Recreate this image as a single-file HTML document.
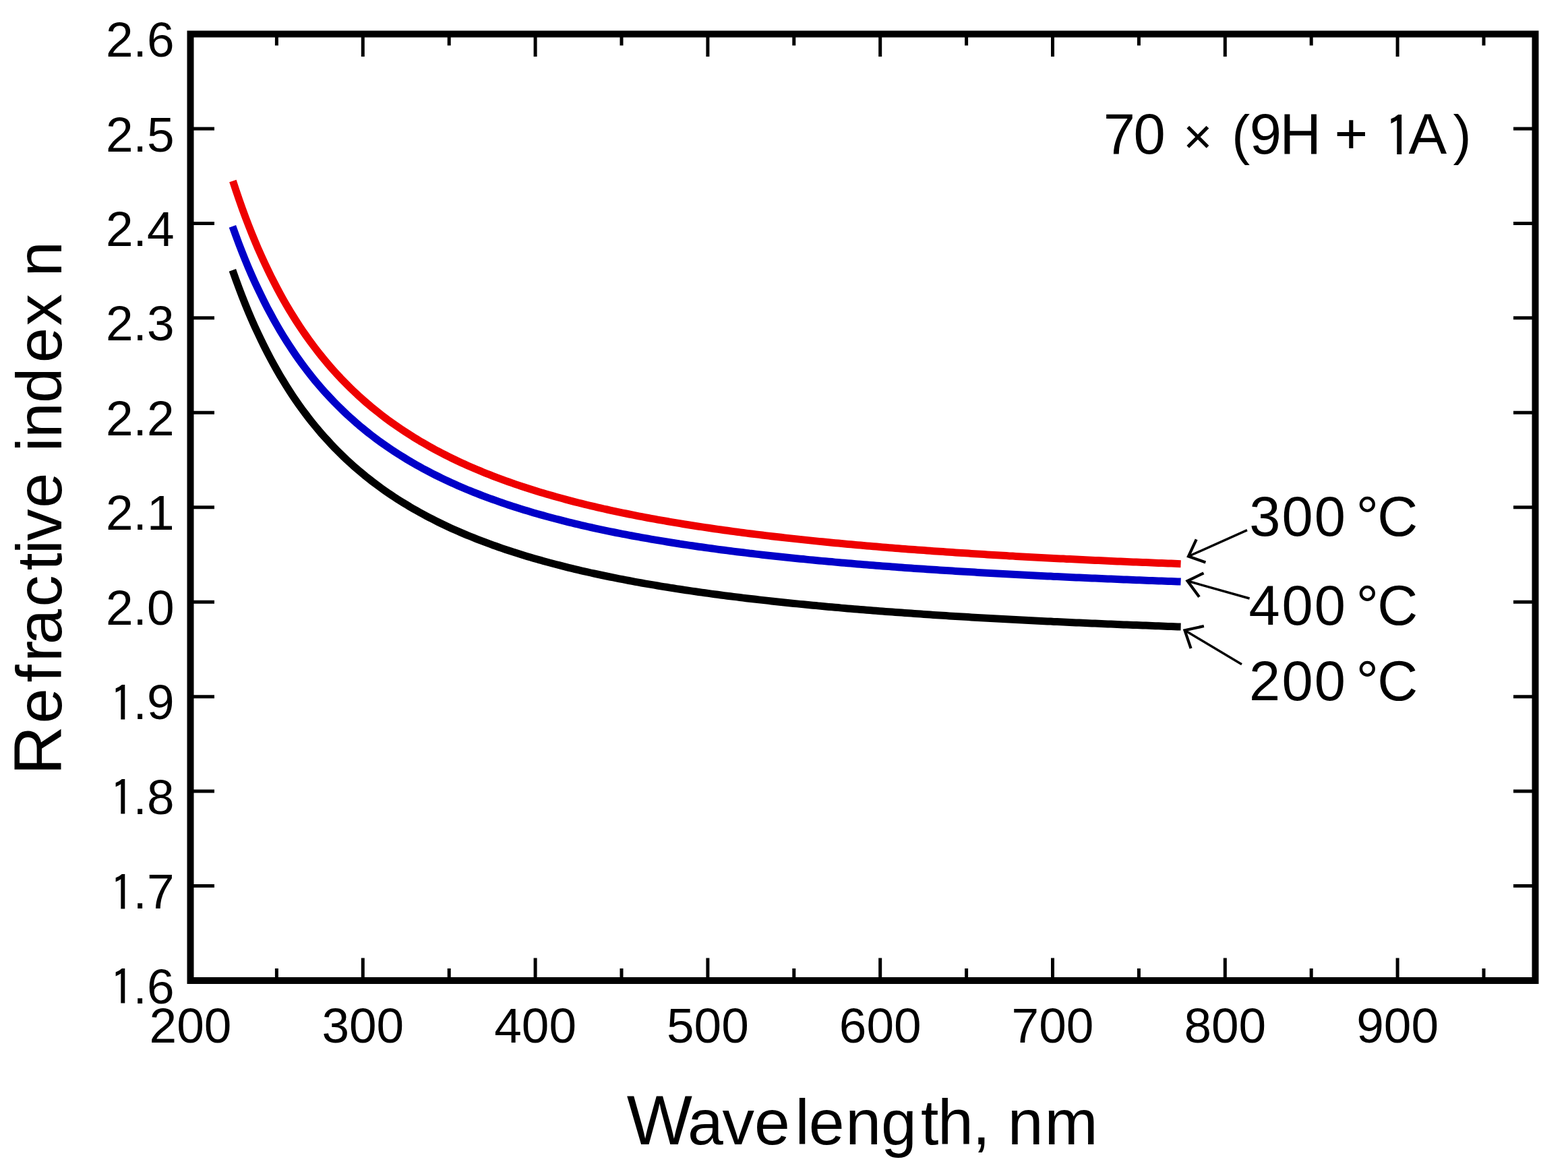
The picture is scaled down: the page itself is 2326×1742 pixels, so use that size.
<!DOCTYPE html>
<html><head><meta charset="utf-8"><title>Refractive index vs wavelength</title>
<style>html,body{margin:0;padding:0;background:#fff;overflow:hidden;}svg{display:block;}</style></head>
<body><svg width="2326" height="1742" viewBox="0 0 2326 1742">
<rect width="2326" height="1742" fill="#fff"/>
<rect x="282.5" y="50.5" width="1995.0" height="1404.5" fill="none" stroke="#000" stroke-width="10"/>
<path d="M538.3 1455.0V1421.5M538.3 50.5V84M794.1 1455.0V1421.5M794.1 50.5V84M1049.9 1455.0V1421.5M1049.9 50.5V84M1305.7 1455.0V1421.5M1305.7 50.5V84M1561.5 1455.0V1421.5M1561.5 50.5V84M1817.3 1455.0V1421.5M1817.3 50.5V84M2073.1 1455.0V1421.5M2073.1 50.5V84M410.4 1455.0V1437M410.4 50.5V67.5M666.2 1455.0V1437M666.2 50.5V67.5M922.0 1455.0V1437M922.0 50.5V67.5M1177.8 1455.0V1437M1177.8 50.5V67.5M1433.6 1455.0V1437M1433.6 50.5V67.5M1689.4 1455.0V1437M1689.4 50.5V67.5M1945.2 1455.0V1437M1945.2 50.5V67.5M2201.0 1455.0V1437M2201.0 50.5V67.5M282.5 1314.5H318M2277.5 1314.5H2245M282.5 1174.1H318M2277.5 1174.1H2245M282.5 1033.7H318M2277.5 1033.7H2245M282.5 893.2H318M2277.5 893.2H2245M282.5 752.8H318M2277.5 752.8H2245M282.5 612.3H318M2277.5 612.3H2245M282.5 471.8H318M2277.5 471.8H2245M282.5 331.4H318M2277.5 331.4H2245M282.5 191.0H318M2277.5 191.0H2245" stroke="#000" stroke-width="5" fill="none"/>
<path d="M345.4 268.5 L350.1 282.8 L354.8 296.6 L359.5 309.9 L364.2 322.6 L368.9 334.9 L373.6 346.8 L378.3 358.2 L383.0 369.3 L387.8 379.9 L392.5 390.2 L397.2 400.2 L401.9 409.8 L406.6 419.1 L411.3 428.1 L416.0 436.8 L420.7 445.3 L425.4 453.4 L430.1 461.4 L434.8 469.0 L439.5 476.5 L444.2 483.7 L448.9 490.7 L453.6 497.5 L458.3 504.2 L463.0 510.6 L467.7 516.8 L472.4 522.9 L477.1 528.8 L481.8 534.5 L486.5 540.1 L491.2 545.6 L495.9 550.9 L500.6 556.0 L505.3 561.1 L510.0 565.9 L514.7 570.7 L519.4 575.4 L524.1 579.9 L528.8 584.3 L533.5 588.7 L538.2 592.9 L542.9 597.0 L547.6 601.0 L552.3 604.9 L557.1 608.8 L561.8 612.5 L566.5 616.2 L571.2 619.8 L575.9 623.3 L580.6 626.7 L585.3 630.0 L590.0 633.3 L594.7 636.5 L599.4 639.6 L604.1 642.7 L608.8 645.7 L613.5 648.7 L618.2 651.5 L622.9 654.4 L627.6 657.1 L632.3 659.8 L637.0 662.5 L641.7 665.1 L646.4 667.7 L651.1 670.2 L655.8 672.6 L660.5 675.0 L665.2 677.4 L669.9 679.7 L674.6 682.0 L679.3 684.2 L684.0 686.4 L688.7 688.6 L693.4 690.7 L698.1 692.7 L702.8 694.8 L707.5 696.8 L712.2 698.7 L716.9 700.7 L721.6 702.6 L726.4 704.4 L731.1 706.3 L735.8 708.1 L740.5 709.8 L745.2 711.6 L749.9 713.3 L754.6 715.0 L759.3 716.6 L764.0 718.3 L768.7 719.9 L773.4 721.4 L778.1 723.0 L782.8 724.5 L787.5 726.0 L792.2 727.5 L796.9 729.0 L801.6 730.4 L806.3 731.8 L811.0 733.2 L815.7 734.6 L820.4 735.9 L825.1 737.2 L829.8 738.5 L834.5 739.8 L839.2 741.1 L843.9 742.3 L848.6 743.6 L853.3 744.8 L858.0 746.0 L862.7 747.2 L867.4 748.3 L872.1 749.5 L876.8 750.6 L881.5 751.7 L886.2 752.8 L890.9 753.9 L895.7 755.0 L900.4 756.0 L905.1 757.1 L909.8 758.1 L914.5 759.1 L919.2 760.1 L923.9 761.1 L928.6 762.0 L933.3 763.0 L938.0 763.9 L942.7 764.9 L947.4 765.8 L952.1 766.7 L956.8 767.6 L961.5 768.5 L966.2 769.3 L970.9 770.2 L975.6 771.1 L980.3 771.9 L985.0 772.7 L989.7 773.5 L994.4 774.3 L999.1 775.1 L1003.8 775.9 L1008.5 776.7 L1013.2 777.5 L1017.9 778.2 L1022.6 779.0 L1027.3 779.7 L1032.0 780.5 L1036.7 781.2 L1041.4 781.9 L1046.1 782.6 L1050.8 783.3 L1055.5 784.0 L1060.3 784.7 L1065.0 785.4 L1069.7 786.0 L1074.4 786.7 L1079.1 787.3 L1083.8 788.0 L1088.5 788.6 L1093.2 789.2 L1097.9 789.9 L1102.6 790.5 L1107.3 791.1 L1112.0 791.7 L1116.7 792.3 L1121.4 792.9 L1126.1 793.4 L1130.8 794.0 L1135.5 794.6 L1140.2 795.1 L1144.9 795.7 L1149.6 796.3 L1154.3 796.8 L1159.0 797.3 L1163.7 797.9 L1168.4 798.4 L1173.1 798.9 L1177.8 799.4 L1182.5 799.9 L1187.2 800.4 L1191.9 800.9 L1196.6 801.4 L1201.3 801.9 L1206.0 802.4 L1210.7 802.9 L1215.4 803.4 L1220.1 803.8 L1224.8 804.3 L1229.6 804.8 L1234.3 805.2 L1239.0 805.7 L1243.7 806.1 L1248.4 806.5 L1253.1 807.0 L1257.8 807.4 L1262.5 807.8 L1267.2 808.3 L1271.9 808.7 L1276.6 809.1 L1281.3 809.5 L1286.0 809.9 L1290.7 810.3 L1295.4 810.7 L1300.1 811.1 L1304.8 811.5 L1309.5 811.9 L1314.2 812.3 L1318.9 812.7 L1323.6 813.1 L1328.3 813.4 L1333.0 813.8 L1337.7 814.2 L1342.4 814.5 L1347.1 814.9 L1351.8 815.2 L1356.5 815.6 L1361.2 815.9 L1365.9 816.3 L1370.6 816.6 L1375.3 817.0 L1380.0 817.3 L1384.7 817.7 L1389.4 818.0 L1394.1 818.3 L1398.9 818.6 L1403.6 819.0 L1408.3 819.3 L1413.0 819.6 L1417.7 819.9 L1422.4 820.2 L1427.1 820.5 L1431.8 820.8 L1436.5 821.1 L1441.2 821.4 L1445.9 821.7 L1450.6 822.0 L1455.3 822.3 L1460.0 822.6 L1464.7 822.9 L1469.4 823.2 L1474.1 823.5 L1478.8 823.8 L1483.5 824.0 L1488.2 824.3 L1492.9 824.6 L1497.6 824.9 L1502.3 825.1 L1507.0 825.4 L1511.7 825.7 L1516.4 825.9 L1521.1 826.2 L1525.8 826.4 L1530.5 826.7 L1535.2 826.9 L1539.9 827.2 L1544.6 827.4 L1549.3 827.7 L1554.0 827.9 L1558.7 828.2 L1563.4 828.4 L1568.2 828.7 L1572.9 828.9 L1577.6 829.1 L1582.3 829.4 L1587.0 829.6 L1591.7 829.8 L1596.4 830.1 L1601.1 830.3 L1605.8 830.5 L1610.5 830.7 L1615.2 830.9 L1619.9 831.2 L1624.6 831.4 L1629.3 831.6 L1634.0 831.8 L1638.7 832.0 L1643.4 832.2 L1648.1 832.4 L1652.8 832.7 L1657.5 832.9 L1662.2 833.1 L1666.9 833.3 L1671.6 833.5 L1676.3 833.7 L1681.0 833.9 L1685.7 834.1 L1690.4 834.3 L1695.1 834.5 L1699.8 834.6 L1704.5 834.8 L1709.2 835.0 L1713.9 835.2 L1718.6 835.4 L1723.3 835.6 L1728.0 835.8 L1732.7 836.0 L1737.5 836.1 L1742.2 836.3 L1746.9 836.5 L1751.6 836.7" stroke="#ee0000" stroke-width="11" fill="none" stroke-linejoin="round"/>
<path d="M344.9 335.8 L349.6 348.9 L354.3 361.6 L359.0 373.8 L363.7 385.5 L368.4 396.8 L373.1 407.7 L377.8 418.2 L382.6 428.4 L387.3 438.2 L392.0 447.7 L396.7 456.9 L401.4 465.7 L406.1 474.3 L410.8 482.6 L415.5 490.7 L420.2 498.5 L424.9 506.0 L429.6 513.3 L434.3 520.4 L439.0 527.3 L443.7 534.0 L448.4 540.5 L453.1 546.8 L457.8 552.9 L462.5 558.9 L467.2 564.7 L471.9 570.3 L476.6 575.8 L481.3 581.1 L486.1 586.3 L490.8 591.3 L495.5 596.2 L500.2 601.0 L504.9 605.7 L509.6 610.2 L514.3 614.7 L519.0 619.0 L523.7 623.2 L528.4 627.3 L533.1 631.4 L537.8 635.3 L542.5 639.1 L547.2 642.9 L551.9 646.5 L556.6 650.1 L561.3 653.6 L566.0 657.0 L570.7 660.3 L575.4 663.6 L580.1 666.8 L584.8 669.9 L589.5 672.9 L594.3 675.9 L599.0 678.8 L603.7 681.7 L608.4 684.5 L613.1 687.2 L617.8 689.9 L622.5 692.6 L627.2 695.2 L631.9 697.7 L636.6 700.2 L641.3 702.6 L646.0 705.0 L650.7 707.3 L655.4 709.6 L660.1 711.9 L664.8 714.1 L669.5 716.2 L674.2 718.3 L678.9 720.4 L683.6 722.5 L688.3 724.5 L693.0 726.5 L697.8 728.4 L702.5 730.3 L707.2 732.2 L711.9 734.0 L716.6 735.8 L721.3 737.6 L726.0 739.3 L730.7 741.0 L735.4 742.7 L740.1 744.4 L744.8 746.0 L749.5 747.6 L754.2 749.2 L758.9 750.7 L763.6 752.3 L768.3 753.8 L773.0 755.2 L777.7 756.7 L782.4 758.1 L787.1 759.5 L791.8 760.9 L796.5 762.3 L801.3 763.6 L806.0 764.9 L810.7 766.2 L815.4 767.5 L820.1 768.8 L824.8 770.0 L829.5 771.2 L834.2 772.4 L838.9 773.6 L843.6 774.8 L848.3 775.9 L853.0 777.1 L857.7 778.2 L862.4 779.3 L867.1 780.4 L871.8 781.5 L876.5 782.5 L881.2 783.6 L885.9 784.6 L890.6 785.6 L895.3 786.6 L900.0 787.6 L904.8 788.6 L909.5 789.5 L914.2 790.5 L918.9 791.4 L923.6 792.3 L928.3 793.2 L933.0 794.1 L937.7 795.0 L942.4 795.9 L947.1 796.7 L951.8 797.6 L956.5 798.4 L961.2 799.2 L965.9 800.1 L970.6 800.9 L975.3 801.7 L980.0 802.4 L984.7 803.2 L989.4 804.0 L994.1 804.7 L998.8 805.5 L1003.5 806.2 L1008.2 807.0 L1013.0 807.7 L1017.7 808.4 L1022.4 809.1 L1027.1 809.8 L1031.8 810.5 L1036.5 811.2 L1041.2 811.8 L1045.9 812.5 L1050.6 813.1 L1055.3 813.8 L1060.0 814.4 L1064.7 815.1 L1069.4 815.7 L1074.1 816.3 L1078.8 816.9 L1083.5 817.5 L1088.2 818.1 L1092.9 818.7 L1097.6 819.3 L1102.3 819.8 L1107.0 820.4 L1111.7 821.0 L1116.5 821.5 L1121.2 822.1 L1125.9 822.6 L1130.6 823.2 L1135.3 823.7 L1140.0 824.2 L1144.7 824.7 L1149.4 825.3 L1154.1 825.8 L1158.8 826.3 L1163.5 826.8 L1168.2 827.3 L1172.9 827.7 L1177.6 828.2 L1182.3 828.7 L1187.0 829.2 L1191.7 829.6 L1196.4 830.1 L1201.1 830.6 L1205.8 831.0 L1210.5 831.5 L1215.2 831.9 L1220.0 832.4 L1224.7 832.8 L1229.4 833.2 L1234.1 833.6 L1238.8 834.1 L1243.5 834.5 L1248.2 834.9 L1252.9 835.3 L1257.6 835.7 L1262.3 836.1 L1267.0 836.5 L1271.7 836.9 L1276.4 837.3 L1281.1 837.7 L1285.8 838.1 L1290.5 838.4 L1295.2 838.8 L1299.9 839.2 L1304.6 839.6 L1309.3 839.9 L1314.0 840.3 L1318.7 840.6 L1323.5 841.0 L1328.2 841.3 L1332.9 841.7 L1337.6 842.0 L1342.3 842.4 L1347.0 842.7 L1351.7 843.0 L1356.4 843.4 L1361.1 843.7 L1365.8 844.0 L1370.5 844.3 L1375.2 844.7 L1379.9 845.0 L1384.6 845.3 L1389.3 845.6 L1394.0 845.9 L1398.7 846.2 L1403.4 846.5 L1408.1 846.8 L1412.8 847.1 L1417.5 847.4 L1422.2 847.7 L1426.9 848.0 L1431.7 848.3 L1436.4 848.6 L1441.1 848.8 L1445.8 849.1 L1450.5 849.4 L1455.2 849.7 L1459.9 849.9 L1464.6 850.2 L1469.3 850.5 L1474.0 850.7 L1478.7 851.0 L1483.4 851.3 L1488.1 851.5 L1492.8 851.8 L1497.5 852.0 L1502.2 852.3 L1506.9 852.5 L1511.6 852.8 L1516.3 853.0 L1521.0 853.3 L1525.7 853.5 L1530.4 853.7 L1535.2 854.0 L1539.9 854.2 L1544.6 854.5 L1549.3 854.7 L1554.0 854.9 L1558.7 855.1 L1563.4 855.4 L1568.1 855.6 L1572.8 855.8 L1577.5 856.0 L1582.2 856.3 L1586.9 856.5 L1591.6 856.7 L1596.3 856.9 L1601.0 857.1 L1605.7 857.3 L1610.4 857.5 L1615.1 857.7 L1619.8 857.9 L1624.5 858.1 L1629.2 858.3 L1633.9 858.5 L1638.7 858.7 L1643.4 858.9 L1648.1 859.1 L1652.8 859.3 L1657.5 859.5 L1662.2 859.7 L1666.9 859.9 L1671.6 860.1 L1676.3 860.3 L1681.0 860.5 L1685.7 860.7 L1690.4 860.8 L1695.1 861.0 L1699.8 861.2 L1704.5 861.4 L1709.2 861.6 L1713.9 861.7 L1718.6 861.9 L1723.3 862.1 L1728.0 862.3 L1732.7 862.4 L1737.4 862.6 L1742.2 862.8 L1746.9 862.9 L1751.6 863.1" stroke="#0000c8" stroke-width="11" fill="none" stroke-linejoin="round"/>
<path d="M344.9 400.8 L349.6 414.1 L354.3 426.9 L359.0 439.3 L363.7 451.1 L368.4 462.6 L373.1 473.6 L377.8 484.2 L382.6 494.5 L387.3 504.4 L392.0 514.0 L396.7 523.3 L401.4 532.2 L406.1 540.9 L410.8 549.3 L415.5 557.4 L420.2 565.2 L424.9 572.8 L429.6 580.2 L434.3 587.4 L439.0 594.3 L443.7 601.1 L448.4 607.6 L453.1 613.9 L457.8 620.1 L462.5 626.1 L467.2 631.9 L471.9 637.6 L476.6 643.1 L481.3 648.4 L486.1 653.6 L490.8 658.7 L495.5 663.7 L500.2 668.5 L504.9 673.2 L509.6 677.7 L514.3 682.2 L519.0 686.5 L523.7 690.8 L528.4 694.9 L533.1 698.9 L537.8 702.8 L542.5 706.7 L547.2 710.4 L551.9 714.1 L556.6 717.7 L561.3 721.2 L566.0 724.6 L570.7 727.9 L575.4 731.2 L580.1 734.4 L584.8 737.5 L589.5 740.6 L594.3 743.6 L599.0 746.5 L603.7 749.3 L608.4 752.2 L613.1 754.9 L617.8 757.6 L622.5 760.2 L627.2 762.8 L631.9 765.3 L636.6 767.8 L641.3 770.2 L646.0 772.6 L650.7 775.0 L655.4 777.3 L660.1 779.5 L664.8 781.7 L669.5 783.9 L674.2 786.0 L678.9 788.1 L683.6 790.1 L688.3 792.1 L693.0 794.1 L697.8 796.0 L702.5 797.9 L707.2 799.8 L711.9 801.6 L716.6 803.4 L721.3 805.2 L726.0 806.9 L730.7 808.7 L735.4 810.3 L740.1 812.0 L744.8 813.6 L749.5 815.2 L754.2 816.8 L758.9 818.3 L763.6 819.8 L768.3 821.3 L773.0 822.8 L777.7 824.2 L782.4 825.7 L787.1 827.1 L791.8 828.5 L796.5 829.8 L801.3 831.1 L806.0 832.5 L810.7 833.8 L815.4 835.0 L820.1 836.3 L824.8 837.5 L829.5 838.7 L834.2 839.9 L838.9 841.1 L843.6 842.3 L848.3 843.4 L853.0 844.6 L857.7 845.7 L862.4 846.8 L867.1 847.9 L871.8 848.9 L876.5 850.0 L881.2 851.0 L885.9 852.0 L890.6 853.0 L895.3 854.0 L900.0 855.0 L904.8 856.0 L909.5 856.9 L914.2 857.9 L918.9 858.8 L923.6 859.7 L928.3 860.6 L933.0 861.5 L937.7 862.4 L942.4 863.3 L947.1 864.1 L951.8 865.0 L956.5 865.8 L961.2 866.6 L965.9 867.4 L970.6 868.2 L975.3 869.0 L980.0 869.8 L984.7 870.6 L989.4 871.3 L994.1 872.1 L998.8 872.8 L1003.5 873.6 L1008.2 874.3 L1013.0 875.0 L1017.7 875.7 L1022.4 876.4 L1027.1 877.1 L1031.8 877.8 L1036.5 878.5 L1041.2 879.1 L1045.9 879.8 L1050.6 880.4 L1055.3 881.1 L1060.0 881.7 L1064.7 882.3 L1069.4 883.0 L1074.1 883.6 L1078.8 884.2 L1083.5 884.8 L1088.2 885.4 L1092.9 885.9 L1097.6 886.5 L1102.3 887.1 L1107.0 887.7 L1111.7 888.2 L1116.5 888.8 L1121.2 889.3 L1125.9 889.9 L1130.6 890.4 L1135.3 890.9 L1140.0 891.4 L1144.7 892.0 L1149.4 892.5 L1154.1 893.0 L1158.8 893.5 L1163.5 894.0 L1168.2 894.5 L1172.9 895.0 L1177.6 895.4 L1182.3 895.9 L1187.0 896.4 L1191.7 896.8 L1196.4 897.3 L1201.1 897.8 L1205.8 898.2 L1210.5 898.6 L1215.2 899.1 L1220.0 899.5 L1224.7 900.0 L1229.4 900.4 L1234.1 900.8 L1238.8 901.2 L1243.5 901.6 L1248.2 902.1 L1252.9 902.5 L1257.6 902.9 L1262.3 903.3 L1267.0 903.7 L1271.7 904.0 L1276.4 904.4 L1281.1 904.8 L1285.8 905.2 L1290.5 905.6 L1295.2 905.9 L1299.9 906.3 L1304.6 906.7 L1309.3 907.0 L1314.0 907.4 L1318.7 907.7 L1323.5 908.1 L1328.2 908.4 L1332.9 908.8 L1337.6 909.1 L1342.3 909.5 L1347.0 909.8 L1351.7 910.1 L1356.4 910.5 L1361.1 910.8 L1365.8 911.1 L1370.5 911.4 L1375.2 911.7 L1379.9 912.1 L1384.6 912.4 L1389.3 912.7 L1394.0 913.0 L1398.7 913.3 L1403.4 913.6 L1408.1 913.9 L1412.8 914.2 L1417.5 914.5 L1422.2 914.8 L1426.9 915.0 L1431.7 915.3 L1436.4 915.6 L1441.1 915.9 L1445.8 916.2 L1450.5 916.4 L1455.2 916.7 L1459.9 917.0 L1464.6 917.2 L1469.3 917.5 L1474.0 917.8 L1478.7 918.0 L1483.4 918.3 L1488.1 918.5 L1492.8 918.8 L1497.5 919.1 L1502.2 919.3 L1506.9 919.5 L1511.6 919.8 L1516.3 920.0 L1521.0 920.3 L1525.7 920.5 L1530.4 920.8 L1535.2 921.0 L1539.9 921.2 L1544.6 921.5 L1549.3 921.7 L1554.0 921.9 L1558.7 922.1 L1563.4 922.4 L1568.1 922.6 L1572.8 922.8 L1577.5 923.0 L1582.2 923.2 L1586.9 923.5 L1591.6 923.7 L1596.3 923.9 L1601.0 924.1 L1605.7 924.3 L1610.4 924.5 L1615.1 924.7 L1619.8 924.9 L1624.5 925.1 L1629.2 925.3 L1633.9 925.5 L1638.7 925.7 L1643.4 925.9 L1648.1 926.1 L1652.8 926.3 L1657.5 926.5 L1662.2 926.7 L1666.9 926.9 L1671.6 927.1 L1676.3 927.2 L1681.0 927.4 L1685.7 927.6 L1690.4 927.8 L1695.1 928.0 L1699.8 928.1 L1704.5 928.3 L1709.2 928.5 L1713.9 928.7 L1718.6 928.8 L1723.3 929.0 L1728.0 929.2 L1732.7 929.4 L1737.4 929.5 L1742.2 929.7 L1746.9 929.9 L1751.6 930.0" stroke="#000" stroke-width="11" fill="none" stroke-linejoin="round"/>
<path d="M1850 786.6L1763 825.5M1853.6 888L1761.5 862M1842 985.7L1757.5 935.3" stroke="#000" stroke-width="3.4" fill="none"/>
<path d="M1774.7 800.3L1763 825.5L1788.4 834.4M1785.5 850.3L1761.5 862L1779 885.8M1785.9 929L1757.5 935.3L1766.6 962.2" stroke="#000" stroke-width="4.2" fill="none" stroke-linejoin="miter" stroke-miterlimit="3"/>
<g font-family="'Liberation Sans', Arial, sans-serif" font-size="73" fill="#000"><text y="1488.6"><tspan x="163.0" dy="3.7" font-family="IPAGothic, 'Liberation Sans', sans-serif">1</tspan><tspan x="197.6" dy="-3.7">.6</tspan></text><text y="1348.1"><tspan x="163.0" dy="3.7" font-family="IPAGothic, 'Liberation Sans', sans-serif">1</tspan><tspan x="197.6" dy="-3.7">.7</tspan></text><text y="1207.7"><tspan x="163.0" dy="3.7" font-family="IPAGothic, 'Liberation Sans', sans-serif">1</tspan><tspan x="197.6" dy="-3.7">.8</tspan></text><text y="1067.2"><tspan x="163.0" dy="3.7" font-family="IPAGothic, 'Liberation Sans', sans-serif">1</tspan><tspan x="197.6" dy="-3.7">.9</tspan></text><text x="258.5" y="926.8" text-anchor="end">2.0</text><text x="258.5" y="786.4" text-anchor="end">2.1</text><text x="258.5" y="645.9" text-anchor="end">2.2</text><text x="258.5" y="505.4" text-anchor="end">2.3</text><text x="258.5" y="365.0" text-anchor="end">2.4</text><text x="258.5" y="224.6" text-anchor="end">2.5</text><text x="258.5" y="84.1" text-anchor="end">2.6</text><text x="282.5" y="1547" text-anchor="middle">200</text><text x="538.3" y="1547" text-anchor="middle">300</text><text x="794.1" y="1547" text-anchor="middle">400</text><text x="1049.9" y="1547" text-anchor="middle">500</text><text x="1305.7" y="1547" text-anchor="middle">600</text><text x="1561.5" y="1547" text-anchor="middle">700</text><text x="1817.3" y="1547" text-anchor="middle">800</text><text x="2073.1" y="1547" text-anchor="middle">900</text></g>
<g font-family="'Liberation Sans', Arial, sans-serif" font-size="83" fill="#000"><text y="795.2"><tspan x="1853.2">3</tspan><tspan x="1901.5">0</tspan><tspan x="1949.7">0</tspan><tspan x="1995.8"> </tspan><tspan x="2011.7">°</tspan><tspan x="2043.3">C</tspan></text><text y="927.2"><tspan x="1852.6">4</tspan><tspan x="1901.5">0</tspan><tspan x="1949.7">0</tspan><tspan x="1995.8"> </tspan><tspan x="2011.7">°</tspan><tspan x="2043.3">C</tspan></text><text y="1038.6"><tspan x="1852.9">2</tspan><tspan x="1901.5">0</tspan><tspan x="1949.7">0</tspan><tspan x="1995.8"> </tspan><tspan x="2011.7">°</tspan><tspan x="2043.3">C</tspan></text></g>
<text font-family="'Liberation Sans', Arial, sans-serif" font-size="85" y="228.3"><tspan x="1636.7">7</tspan><tspan x="1681.4">0</tspan><tspan x="1728.6"> </tspan><tspan x="1755.2" font-size="74">×</tspan><tspan x="1798.4"> </tspan><tspan x="1827.2" font-size="81">(</tspan><tspan x="1853.8">9</tspan><tspan x="1898.4">H</tspan><tspan x="1959.8"> </tspan><tspan x="1979.4">+</tspan><tspan x="2029.0"> </tspan><tspan x="2053.5" dy="4.3" font-family="IPAGothic, 'Liberation Sans', sans-serif" font-size="84">1</tspan><tspan x="2089.6" dy="-4.3">A</tspan><tspan x="2155.6" font-size="81">)</tspan></text>
<text font-family="'Liberation Sans', Arial, sans-serif" font-size="95" y="1698.3"><tspan x="929.8" font-size="103">W</tspan><tspan x="1020.0">a</tspan><tspan x="1071.5">v</tspan><tspan x="1119.1">e</tspan><tspan x="1179.6">l</tspan><tspan x="1199.8">e</tspan><tspan x="1254.2">n</tspan><tspan x="1306.9">g</tspan><tspan x="1366.0">t</tspan><tspan x="1391.1">h</tspan><tspan x="1442.5">,</tspan><tspan x="1468.9"> </tspan><tspan x="1494.8">n</tspan><tspan x="1549.5">m</tspan></text>
<text font-family="'Liberation Sans', Arial, sans-serif" font-size="94" transform="translate(90.6 1147.5) rotate(-90)"><tspan x="-2.4" font-size="101">R</tspan><tspan x="74.0">e</tspan><tspan x="135.1">f</tspan><tspan x="165.4">r</tspan><tspan x="191.2">a</tspan><tspan x="247.0">c</tspan><tspan x="300.9">t</tspan><tspan x="325.4">i</tspan><tspan x="345.1">v</tspan><tspan x="393.7">e</tspan><tspan x="445.9"> </tspan><tspan x="477.3">i</tspan><tspan x="497.8">n</tspan><tspan x="549.5">d</tspan><tspan x="609.2">e</tspan><tspan x="664.3">x</tspan><tspan x="711.3"> </tspan><tspan x="736.9">n</tspan></text>
</svg></body></html>
